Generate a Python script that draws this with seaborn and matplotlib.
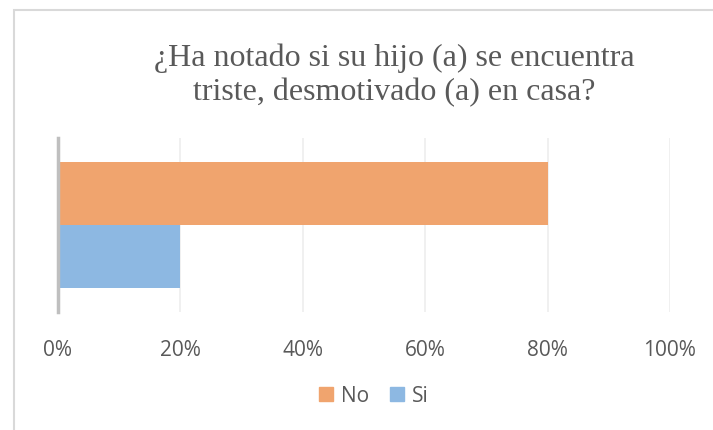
import matplotlib
matplotlib.use("Agg")
import matplotlib.pyplot as plt
import matplotlib.patches as mpatches
import seaborn as sns
import pandas as pd

title_lines = ["¿Ha notado si su hijo (a) se encuentra", "triste, desmotivado (a) en casa?"]
series = ["No", "Si"]
values = [0.80, 0.20]
category = [""]
ticks = [0, 0.2, 0.4, 0.6, 0.8, 1.0]
tick_labels = ["0%", "20%", "40%", "60%", "80%", "100%"]
colors = ["#F0A46E", "#8DB8E2"]

df = pd.DataFrame({"cat": category * len(series), "serie": series, "val": values})

sns.set_theme(style="white")
plt.rcParams["font.family"] = ["Open Sans", "DejaVu Sans"]

fig = plt.figure(figsize=(7.13, 4.30), dpi=100)
ax = fig.add_axes([58 / 713, 1 - 312 / 430, (670 - 58) / 713, (312 - 138) / 430])

sns.barplot(data=df, x="val", y="cat", hue="serie", hue_order=series,
            palette=colors, orient="h", width=0.72, ax=ax, legend=False,
            saturation=1, edgecolor="none")

ax.set_xlim(0, 1)
ax.set_ylim(0.5, -0.5)
ax.set_xticks(ticks)
ax.set_xticklabels(tick_labels, fontsize=15, color="#595959")
ax.set_yticks([])
ax.set_xlabel("")
ax.set_ylabel("")
ax.tick_params(axis="x", length=0, pad=20)
ax.xaxis.grid(True, color="#EDEDED", linewidth=1.2)
ax.set_axisbelow(True)
for s in ["top", "right", "bottom"]:
    ax.spines[s].set_visible(False)
ax.spines["left"].set_color("#BFBFBF")
ax.spines["left"].set_linewidth(2.5)

for line, yb in zip(title_lines, [66, 100]):
    fig.text(394 / 713, 1 - yb / 430, line, ha="center", va="baseline",
             family="Liberation Serif", fontsize=23, color="#595959")

handles = [mpatches.Patch(color=c, label=s) for c, s in zip(colors, series)]
fig.legend(handles=handles, loc="center", bbox_to_anchor=(374 / 713, 1 - 396 / 430),
           ncol=2, frameon=False, fontsize=15, handlelength=0.65, handleheight=0.65,
           handletextpad=0.4, columnspacing=1.0, labelcolor="#595959")

border = mpatches.Rectangle((13.5 / 713, -0.1), 1.2, 1 - 10.5 / 430 + 0.1,
                            transform=fig.transFigure, fill=False,
                            edgecolor="#D9D9D9", linewidth=1.5)
fig.patches.append(border)

fig.savefig("out.png", dpi=100)
